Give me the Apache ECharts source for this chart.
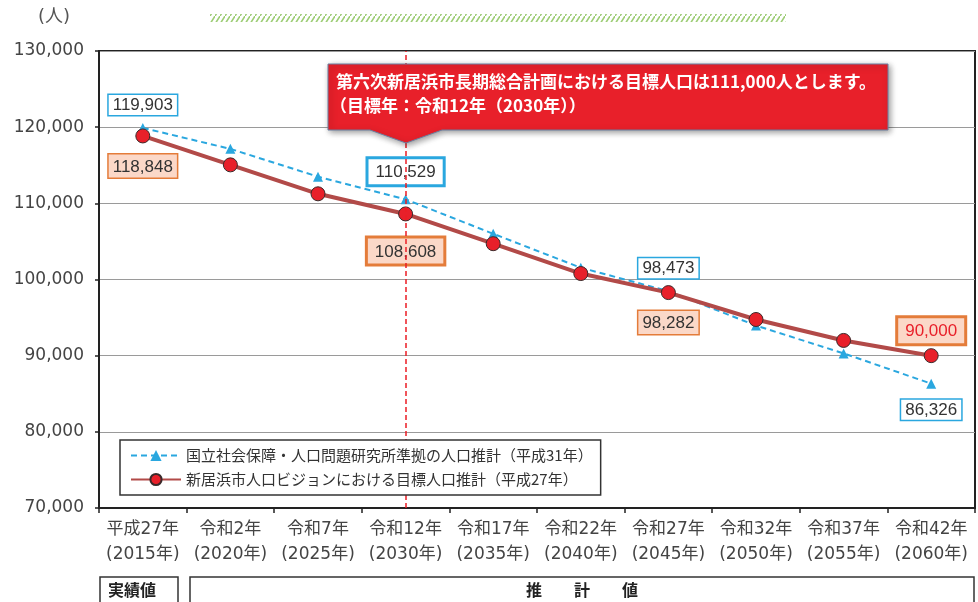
<!DOCTYPE html>
<html>
<head>
<meta charset="utf-8">
<script src="https://cdn.jsdelivr.net/npm/echarts@6/dist/echarts.min.js"></script>
<style>
  html, body { margin: 0; padding: 0; background: #fff; }
  #chart { width: 978px; height: 602px; }
</style>
</head>
<body>
<div id="chart"></div>
<script>
// 年次（和暦・西暦）
const eraLabels = ['平成27年', '令和2年', '令和7年', '令和12年', '令和17年', '令和22年', '令和27年', '令和32年', '令和37年', '令和42年']
const yearLabels = ['(2015年)', '(2020年)', '(2025年)', '(2030年)', '(2035年)', '(2040年)', '(2045年)', '(2050年)', '(2055年)', '(2060年)']

// 社人研準拠の推計
const ipssValues = [119903, 117150, 113500, 110529, 106000, 101550, 98473, 93950, 90300, 86326]
// 人口ビジョンの目標
const visionValues = [118848, 115050, 111250, 108608, 104700, 100780, 98282, 94750, 92000, 90000]

// 数値ラベルを付ける点（index と位置）
const ipssLabelIdx = [0, 3, 6, 9]
const ipssLabelPos = ['top', 'top', 'top', 'bottom']
const visionLabelIdx = [0, 3, 6, 9]
const visionLabelPos = ['bottom', 'bottom', 'bottom', 'top']

const yTicks = [70000, 130000, 10000]

const font = '"Noto Sans CJK JP", "Noto Sans", sans-serif'
const axisFont = '"DejaVu Sans", "Noto Sans CJK JP", sans-serif'
const numFont = '"Liberation Sans", Arial, sans-serif'
const blue = '#2aa7df'
const orange = '#e47c3a'
const peach = '#fbd8c8'

function fmt(v){
    return v.toLocaleString('en-US')
}

// ラベルの箱
function blueBox(pos, big){
    return {
        show: true, position: pos,
        distance: pos == 'top' ? (big ? 10 : 8) : 11,
        formatter: p => fmt(p.value),
        fontFamily: numFont, fontSize: 17, color: '#333',
        backgroundColor: '#fff', borderColor: blue,
        borderWidth: big ? 3 : 1.5,
        padding: big ? [5, 7, 3, 7] : [2, 4, 1, 4]
    }
}
function orangeBox(pos, big, red){
    return {
        show: true, position: pos,
        distance: pos == 'top' ? 5 : (big ? 17 : 11),
        formatter: p => fmt(p.value),
        fontFamily: numFont, fontSize: 17, color: red ? '#e8202a' : '#333',
        backgroundColor: peach, borderColor: orange,
        borderWidth: big ? 3 : 1.5,
        padding: big ? [5, 7, 3, 7] : [4, 4, 2, 4]
    }
}

const ipssData = ipssValues.map((v, i) => {
    const k = ipssLabelIdx.indexOf(i)
    if (k < 0) return v
    return { value: v, label: blueBox(ipssLabelPos[k], i == 3) }
})
const visionData = visionValues.map((v, i) => {
    const k = visionLabelIdx.indexOf(i)
    if (k < 0) return v
    return { value: v, label: orangeBox(visionLabelPos[k], i == 3 || i == 9, i == 9) }
})

// 斜線パターン（上部の飾り）
const hatch = document.createElement('canvas')
hatch.width = 5
hatch.height = 8
const hctx = hatch.getContext('2d')
hctx.strokeStyle = '#9ccc74'
hctx.lineWidth = 1.6
hctx.beginPath()
hctx.moveTo(0, 8)
hctx.lineTo(5, 0)
hctx.stroke()

const chart = echarts.init(document.getElementById('chart'))

const option = {
    animation: false,
    textStyle: { fontFamily: font },
    grid: {
        left: 99, right: 3, top: 51, bottom: 94,
        show: true, borderColor: '#222', borderWidth: 2
    },
    legend: {
        orient: 'vertical',
        left: 120, top: 440,
        z: 10,
        backgroundColor: '#fff',
        borderColor: '#333', borderWidth: 1.5,
        padding: [8, 8, 8, 10],
        itemGap: 9,
        itemWidth: 50, itemHeight: 14,
        textStyle: { fontFamily: font, fontSize: 15, color: '#333' },
        data: ['国立社会保障・人口問題研究所準拠の人口推計（平成31年）', '新居浜市人口ビジョンにおける目標人口推計（平成27年）']
    },
    xAxis: {
        type: 'category',
        data: eraLabels,
        axisLine: { lineStyle: { color: '#222', width: 2 } },
        axisTick: { show: true, length: 5, lineStyle: { color: '#222', width: 1.5 } },
        axisLabel: {
            interval: 0,
            margin: 9,
            fontFamily: axisFont, fontSize: 17, color: '#444', lineHeight: 25,
            formatter: (v, i) => v + '\n' + yearLabels[i]
        }
    },
    yAxis: {
        type: 'value',
        min: yTicks[0], max: yTicks[1], interval: yTicks[2],
        axisLine: { show: true, lineStyle: { color: '#222', width: 2 } },
        axisTick: { show: true, length: 4, lineStyle: { color: '#222', width: 1.5 } },
        splitLine: { lineStyle: { color: '#9a9a9a', width: 1.2 } },
        axisLabel: {
            margin: 15,
            fontFamily: axisFont, fontSize: 17, color: '#444',
            formatter: v => fmt(v)
        }
    },
    series: [
        {
            name: '国立社会保障・人口問題研究所準拠の人口推計（平成31年）',
            type: 'line',
            data: ipssData,
            symbol: 'triangle', symbolSize: 10,
            itemStyle: { color: blue },
            lineStyle: { color: blue, width: 2, type: [6, 4] },
            z: 3
        },
        {
            name: '新居浜市人口ビジョンにおける目標人口推計（平成27年）',
            type: 'line',
            data: visionData,
            symbol: 'circle', symbolSize: 14,
            itemStyle: { color: '#e8202a', borderColor: '#3a2a2a', borderWidth: 1 },
            lineStyle: { color: '#b24a48', width: 4 },
            z: 4,
            markLine: {
                silent: true, symbol: 'none',
                label: { show: false },
                lineStyle: { color: '#ec1c24', width: 1.5, type: [5, 3] },
                data: [{ xAxis: '令和12年' }]
            }
        }
    ],
    graphic: [
        {
            type: 'text', x: 38, y: 8,
            style: { text: '(人)', font: '18px ' + axisFont, fill: '#555' }
        },
        {
            type: 'rect', shape: { x: 210, y: 14, width: 576, height: 8 },
            style: { fill: { image: hatch, repeat: 'repeat' } }
        },
        {
            type: 'polygon', z: 20,
            shape: { points: [[328, 64], [888, 64], [888, 130], [442, 130], [406, 143], [370, 130], [328, 130]] },
            style: { fill: '#e8202a', stroke: '#6a7fa0', lineWidth: 1, shadowBlur: 6, shadowColor: 'rgba(0,0,0,0.4)', shadowOffsetX: 2, shadowOffsetY: 2 }
        },
        {
            type: 'text', x: 336, y: 73, z: 21,
            style: { text: '第六次新居浜市長期総合計画における目標人口は111,000人とします。', font: 'bold 17px ' + font, fill: '#fff' }
        },
        {
            type: 'text', x: 330, y: 97, z: 21,
            style: { text: '（目標年：令和12年（2030年））', font: 'bold 17px ' + font, fill: '#fff' }
        },
        {
            type: 'rect', shape: { x: 100, y: 577, width: 78, height: 30 },
            style: { fill: '#fff', stroke: '#333', lineWidth: 1.5 }
        },
        {
            type: 'text', x: 108, y: 582,
            style: { text: '実績値', font: 'bold 16px ' + font, fill: '#222' }
        },
        {
            type: 'rect', shape: { x: 190, y: 577, width: 784, height: 30 },
            style: { fill: '#fff', stroke: '#333', lineWidth: 1.5 }
        },
        {
            type: 'text', x: 582, y: 582,
            style: { text: '推　　計　　値', font: 'bold 16px ' + font, fill: '#222', align: 'center' }
        }
    ]
}
chart.setOption(option)
</script>
</body>
</html>
